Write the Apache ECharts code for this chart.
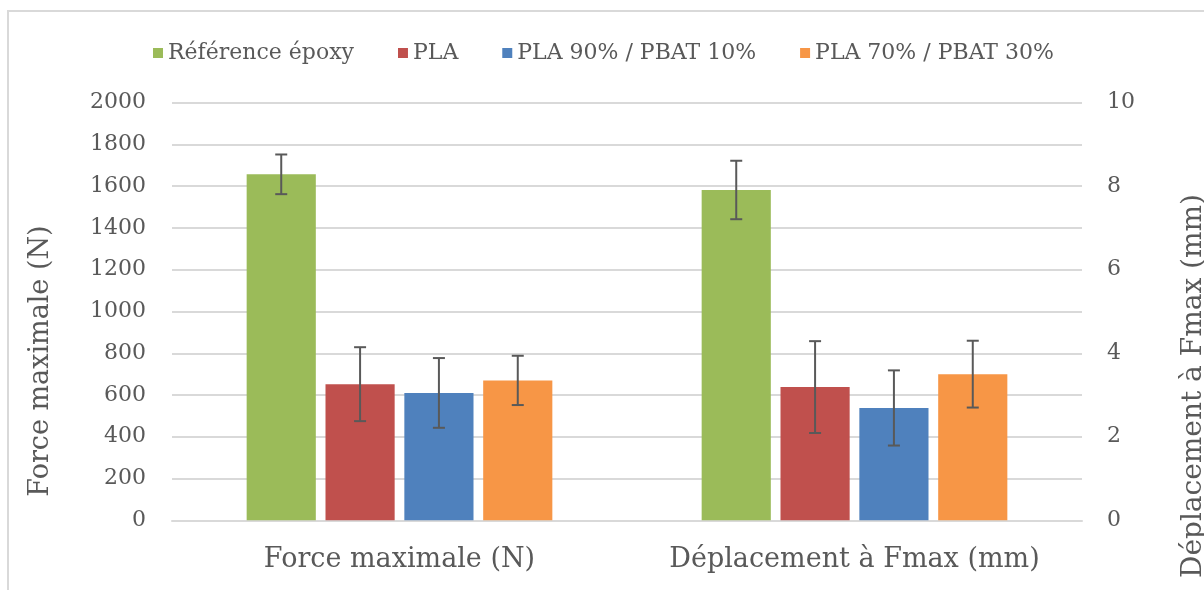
<!DOCTYPE html>
<html>
<head>
<meta charset="utf-8">
<script src="https://cdn.jsdelivr.net/npm/echarts@6/dist/echarts.min.js"></script>
<style>
html,body{margin:0;padding:0;background:#fff;}
#c{width:1204px;height:590px;}
</style>
</head>
<body>
<div id="c"></div>
<script>
const categories = ['Force maximale (N)', 'Déplacement à Fmax (mm)'];
const seriesNames = ['Référence époxy', 'PLA', 'PLA 90% / PBAT 10%', 'PLA 70% / PBAT 30%'];
const forceMean = [1657, 652, 610, 670];
const forceErr = [95, 177, 167, 118];
const deplMean = [7.91, 3.19, 2.69, 3.50];
const deplErr = [0.70, 1.10, 0.90, 0.80];
const leftTicks = [0, 200, 400, 600, 800, 1000, 1200, 1400, 1600, 1800, 2000];
const rightTicks = [0, 2, 4, 6, 8, 10];
const colors = ['#9BBB59', '#C0504D', '#4F81BD', '#F79646'];

const FONT = 'DejaVu Serif';
const TXT = '#595959';
const BAR_W = 0.152;   // fraction of band
const BAR_GAP = 0.14;  // fraction of bar width

const series = [];
seriesNames.forEach((n, i) => {
  series.push({
    name: n, type: 'bar', xAxisIndex: 0, yAxisIndex: 0,
    data: [forceMean[i], '-'],
    barWidth: (BAR_W * 100) + '%', barGap: (BAR_GAP * 100) + '%',
    itemStyle: { color: colors[i] }
  });
});
seriesNames.forEach((n, i) => {
  series.push({
    name: n, type: 'bar', xAxisIndex: 1, yAxisIndex: 1,
    data: ['-', deplMean[i]],
    barWidth: (BAR_W * 100) + '%', barGap: (BAR_GAP * 100) + '%',
    itemStyle: { color: colors[i] }
  });
});

function errRender(params, api) {
  const cat = api.value(0), si = api.value(1), m = api.value(2), e = api.value(3);
  const top = api.coord([cat, m + e]);
  const bot = api.coord([cat, m - e]);
  const bandW = api.size([1, 0])[0];
  const w = bandW * BAR_W, g = w * BAR_GAP;
  const x = top[0] + (si - 1.5) * (w + g);
  const cap = 6;
  const st = { stroke: '#595959', lineWidth: 2 };
  return {
    type: 'group',
    children: [
      { type: 'line', shape: { x1: x, y1: top[1], x2: x, y2: bot[1] }, style: st },
      { type: 'line', shape: { x1: x - cap, y1: top[1], x2: x + cap, y2: top[1] }, style: st },
      { type: 'line', shape: { x1: x - cap, y1: bot[1], x2: x + cap, y2: bot[1] }, style: st }
    ]
  };
}
series.push({
  type: 'custom', xAxisIndex: 0, yAxisIndex: 0, z: 10,
  renderItem: errRender, encode: { x: 0, y: 2 },
  data: forceMean.map((m, i) => [0, i, m, forceErr[i]])
});
series.push({
  type: 'custom', xAxisIndex: 1, yAxisIndex: 1, z: 10,
  renderItem: errRender, encode: { x: 0, y: 2 },
  data: deplMean.map((m, i) => [1, i, m, deplErr[i]])
});

const chart = echarts.init(document.getElementById('c'), null, { renderer: 'canvas' });
chart.setOption({
  animation: false,
  backgroundColor: '#fff',
  textStyle: { fontFamily: FONT },
  legend: {
    data: seriesNames, left: 148, top: 37, icon: 'rect',
    itemWidth: 10, itemHeight: 10, itemGap: 44,
    textStyle: { fontFamily: FONT, fontSize: 22, color: TXT }
  },
  grid: { left: 172, right: 122, top: 102.7, bottom: 69.7, containLabel: false },
  xAxis: [
    {
      type: 'category', data: categories,
      axisLine: { lineStyle: { color: '#d9d9d9', width: 2 } },
      axisTick: { show: false },
      axisLabel: { fontFamily: FONT, fontSize: 27, color: TXT, margin: 26, interval: 0 }
    },
    { type: 'category', data: categories, show: false }
  ],
  yAxis: [
    {
      type: 'value', min: leftTicks[0], max: leftTicks[leftTicks.length - 1], interval: leftTicks[1] - leftTicks[0],
      axisLine: { show: false }, axisTick: { show: false },
      splitLine: { lineStyle: { color: '#d9d9d9', width: 2 } },
      axisLabel: { fontFamily: FONT, fontSize: 22, color: TXT, margin: 26, formatter: v => String(v) }
    },
    {
      type: 'value', min: rightTicks[0], max: rightTicks[rightTicks.length - 1], interval: rightTicks[1] - rightTicks[0], position: 'right',
      axisLine: { show: false }, axisTick: { show: false },
      splitLine: { show: false },
      axisLabel: { fontFamily: FONT, fontSize: 22, color: TXT, margin: 25, formatter: v => String(v) }
    }
  ],
  graphic: [
    { type: 'rect', shape: { x: 8, y: 11, width: 1300, height: 700 }, style: { fill: 'none', stroke: '#d9d9d9', lineWidth: 2 }, silent: true, z: -1 },
    { type: 'text', x: 41, y: 361, rotation: Math.PI / 2, style: { text: 'Force maximale (N)', fontFamily: FONT, fontSize: 27, fill: TXT, align: 'center', verticalAlign: 'middle' } },
    { type: 'text', x: 1194, y: 386, rotation: Math.PI / 2, style: { text: 'Déplacement à Fmax (mm)', fontFamily: FONT, fontSize: 28, fill: TXT, align: 'center', verticalAlign: 'middle' } }
  ],
  series: series
});
</script>
</body>
</html>
